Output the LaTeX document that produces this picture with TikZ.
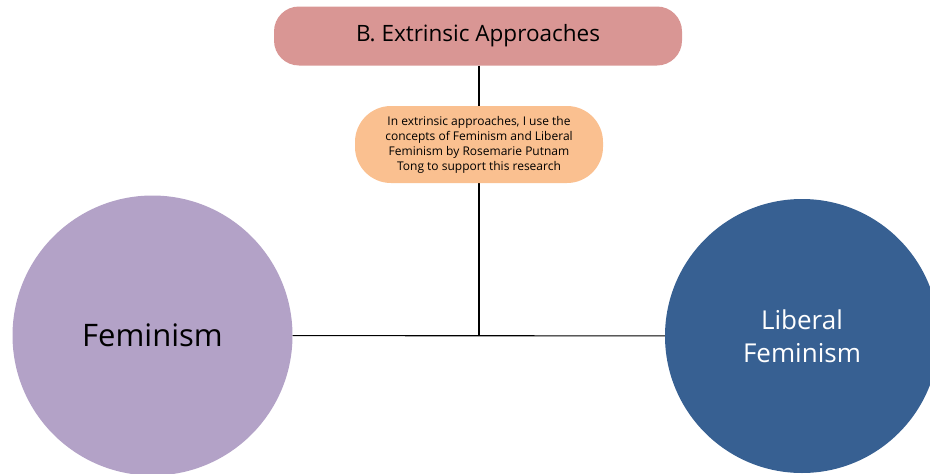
\documentclass[tikz,border=0pt]{standalone}
\usepackage{fontspec}
\setmainfont{Open Sans}
\usepackage{tikz}
\definecolor{titlepink}{HTML}{D99694}
\definecolor{noteorange}{HTML}{FAC090}
\definecolor{femlilac}{HTML}{B3A2C7}
\definecolor{libblue}{HTML}{376092}
\tikzset{
  titlebox/.style={fill=titlepink, rounded corners=25pt, minimum width=408pt, minimum height=59pt, font=\fontsize{22.5}{27}\selectfont},
  notebox/.style={fill=noteorange, rounded corners=36pt, minimum width=248pt, minimum height=77pt, align=center, font=\fontsize{12}{15}\selectfont},
  bigcircle/.style={circle, minimum size=#1, inner sep=0pt, align=center}
}

\begin{document}
\begin{tikzpicture}[x=1pt, y=-1pt]
\useasboundingbox (0,0) rectangle (930,474);
\node[titlebox] (extrinsic) at (478,36) {B. Extrinsic Approaches};
\node[bigcircle=280pt, fill=femlilac, font=\fontsize{31}{33}\selectfont] (feminism) at (152.5,335.5) {Feminism};
\node[bigcircle=274pt, fill=libblue, text=white, font=\fontsize{26}{33}\selectfont] (liberal) at (802,336) {Liberal\\Feminism};
\coordinate (join) at (479,336);
\draw[line width=1.1pt] (extrinsic.south -| join) -- (join);
\draw[line width=1.1pt] (feminism) -- (liberal);
\node[notebox] (concepts) at (479,144.5) {In extrinsic approaches, I use the\\concepts of Feminism and Liberal\\Feminism by Rosemarie Putnam\\Tong to support this research};
\end{tikzpicture}
\end{document}
